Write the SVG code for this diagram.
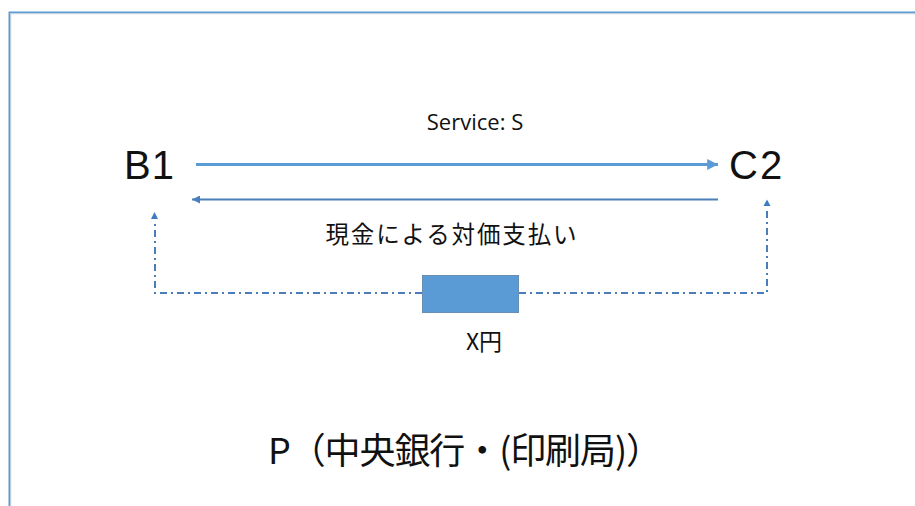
<svg xmlns="http://www.w3.org/2000/svg" width="915" height="506" viewBox="0 0 915 506">
<style>
.lbl{font-family:"Liberation Sans","Noto Sans CJK JP",sans-serif;fill:#111}
.svc{font-family:"Open Sans","Liberation Sans",sans-serif;fill:#111}
.jp{font-family:"Noto Sans CJK JP","Liberation Sans",sans-serif;fill:#111}
.dash{fill:none;stroke:#4a7ebb;stroke-width:2;stroke-dasharray:7 4 2 4}
</style>
<defs>
<marker id="ah1" viewBox="0 0 10 10" refX="10" refY="5" markerWidth="3.6" markerHeight="3.6" orient="auto" markerUnits="strokeWidth"><path d="M0,0 L10,5 L0,10 Z" fill="#5b9bd5"/></marker>
<marker id="ah2" viewBox="0 0 10 10" refX="10" refY="5" markerWidth="4" markerHeight="4" orient="auto" markerUnits="strokeWidth"><path d="M0,0 L10,5 L0,10 Z" fill="#4a7ebb"/></marker>
</defs>
<rect width="915" height="506" fill="#fff"/>
<g id="frame">
<path d="M10.5,506 V13.5 H915" fill="none" stroke="#c8d4e0" stroke-width="1.5"/>
<path d="M9.3,506 V12.3 H915" fill="none" stroke="#5b9bd5" stroke-width="1.6"/>
</g>
<g id="connectors">
<line x1="196" y1="164.5" x2="718" y2="164.5" stroke="#5b9bd5" stroke-width="3" marker-end="url(#ah1)"/>
<line x1="718" y1="199.5" x2="192" y2="199.5" stroke="#4a7ebb" stroke-width="2" marker-end="url(#ah2)"/>
<path class="dash" d="M422,293 H155 V220"/>
<path class="dash" d="M519,293 H767 V207"/>
<path d="M151,219 L154.5,212 L158,219 Z" fill="#3d7cc4"/>
<path d="M763.5,206 L767,199.5 L770.5,206 Z" fill="#3d7cc4"/>
<text class="svc" x="475" y="130" text-anchor="middle" font-size="22">Service: S</text>
<text class="jp" x="451" y="243" text-anchor="middle" font-size="23.5" textLength="251">現金による対価支払い</text>
</g>
<g id="B1"><text class="lbl" x="124" y="179" font-size="40" letter-spacing="1">B1</text></g>
<g id="C2"><text class="lbl" x="729" y="179" font-size="40" letter-spacing="2">C2</text></g>
<g id="X">
<rect x="422.5" y="275.5" width="96" height="37" fill="#5b9bd5" stroke="#6a8db3" stroke-width="1"/>
<text class="jp" x="484" y="350" text-anchor="middle" font-size="23">X円</text>
</g>
<g id="P"><text class="jp" x="268" y="464" font-size="36" textLength="394">P（中央銀行・(印刷局)）</text></g>
</svg>
